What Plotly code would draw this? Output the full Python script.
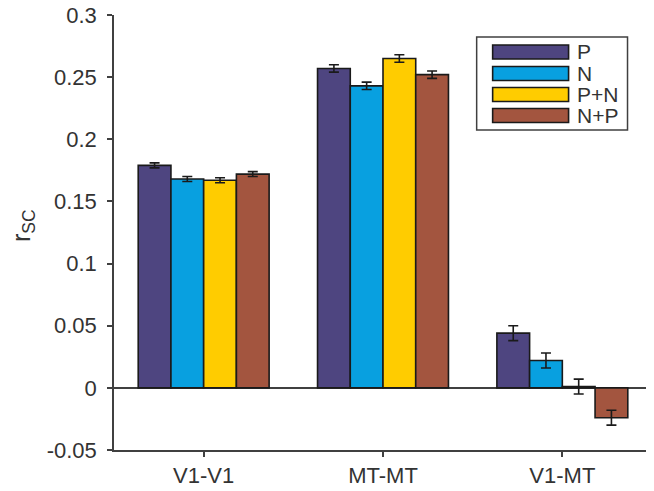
import plotly.graph_objects as go

categories = ["V1-V1", "MT-MT", "V1-MT"]
series_names = ["P", "N", "P+N", "N+P"]
values_P = [0.179, 0.257, 0.044]
values_N = [0.168, 0.243, 0.022]
values_PN = [0.167, 0.265, 0.001]
values_NP = [0.172, 0.252, -0.024]
err_P = [0.002, 0.003, 0.006]
err_N = [0.002, 0.003, 0.006]
err_PN = [0.002, 0.003, 0.006]
err_NP = [0.002, 0.003, 0.006]
colors = ["#4e4580", "#08a0e0", "#ffcc00", "#a3553f"]
ytick_vals = [-0.05, 0, 0.05, 0.1, 0.15, 0.2, 0.25, 0.3]
ytick_text = ["-0.05", "0", "0.05", "0.1", "0.15", "0.2", "0.25", "0.3"]

values = [values_P, values_N, values_PN, values_NP]
errors = [err_P, err_N, err_PN, err_NP]

FONT = "Liberation Sans, Arial, Helvetica, sans-serif"
AX = "#404040"
TXT = "#333333"

fig = go.Figure()
for name, v, e, c in zip(series_names, values, errors, colors):
    fig.add_trace(go.Bar(
        x=categories, y=v, name=name,
        marker=dict(color=c, line=dict(color="#1a1a1a", width=1.6)),
        error_y=dict(type="data", array=e, visible=True, color="#1a1a1a",
                     thickness=1.6, width=5),
        showlegend=False,
    ))

# page body has an 8px default margin: figure is offset by OFF px
OFF = 8
W, H = 654 - OFF, 491 - OFF
ml, mr, mt, mb = 114 - OFF, 1.5, 15 - OFF, 41
pw = W - ml - mr
ph = H - mt - mb

def px2paper(x, y):
    # x, y given in screen pixels of the target image
    x -= OFF
    y -= OFF
    return (x - ml) / pw, (H - mb - y) / ph

shapes = []
annotations = []
# legend box
x0, y0 = px2paper(477, 37)
x1, y1 = px2paper(628, 130)
shapes.append(dict(type="rect", xref="paper", yref="paper", x0=x0, y0=y1, x1=x1, y1=y0,
                   line=dict(color=AX, width=1.5), fillcolor="white", layer="above"))
row_tops = [45, 66.5, 87.5, 108.5]
for name, c, top in zip(series_names, colors, row_tops):
    sx0, sy0 = px2paper(493, top)
    sx1, sy1 = px2paper(569, top + 14)
    shapes.append(dict(type="rect", xref="paper", yref="paper", x0=sx0, y0=sy1, x1=sx1, y1=sy0,
                       line=dict(color="#1a1a1a", width=1.6), fillcolor=c, layer="above"))
    tx, ty = px2paper(575, top + 7)
    annotations.append(dict(xref="paper", yref="paper", x=tx, y=ty, text=name,
                            showarrow=False, xanchor="left", yanchor="middle",
                            font=dict(family=FONT, size=21, color=TXT)))

# y-axis title
annotations.append(dict(xref="paper", yref="paper", x=px2paper(23, 0)[0], y=px2paper(0, 226)[1],
                        text="r<sub>SC</sub>", showarrow=False, textangle=-90,
                        xanchor="center", yanchor="middle",
                        font=dict(family=FONT, size=25, color=TXT)))

fig.update_layout(
    width=W, height=H,
    margin=dict(l=ml, r=mr, t=mt, b=mb, pad=0, autoexpand=False),
    paper_bgcolor="white", plot_bgcolor="white",
    barmode="group", bargap=0.27, bargroupgap=0,
    font=dict(family=FONT, size=22, color=TXT),
    shapes=shapes, annotations=annotations,
    showlegend=False,
)
fig.update_xaxes(
    range=[-0.5, 2.5], showline=True, linecolor=AX, linewidth=1.5,
    ticks="outside", ticklen=5, tickwidth=1.5, tickcolor=AX,
    showgrid=False, zeroline=False, automargin=False,
    ticklabeloverflow="allow",
    tickfont=dict(family=FONT, size=22, color=TXT),
)
fig.update_yaxes(
    range=[-0.05, 0.3], tickvals=ytick_vals, ticktext=ytick_text,
    showline=True, linecolor=AX, linewidth=1.5,
    ticks="outside", ticklen=5, tickwidth=1.5, tickcolor=AX,
    showgrid=False, zeroline=True, zerolinecolor=AX, zerolinewidth=1.5,
    automargin=False, ticklabeloverflow="allow", ticklabelstandoff=6,
    tickfont=dict(family=FONT, size=22, color=TXT),
)

fig.write_html("out.html")
